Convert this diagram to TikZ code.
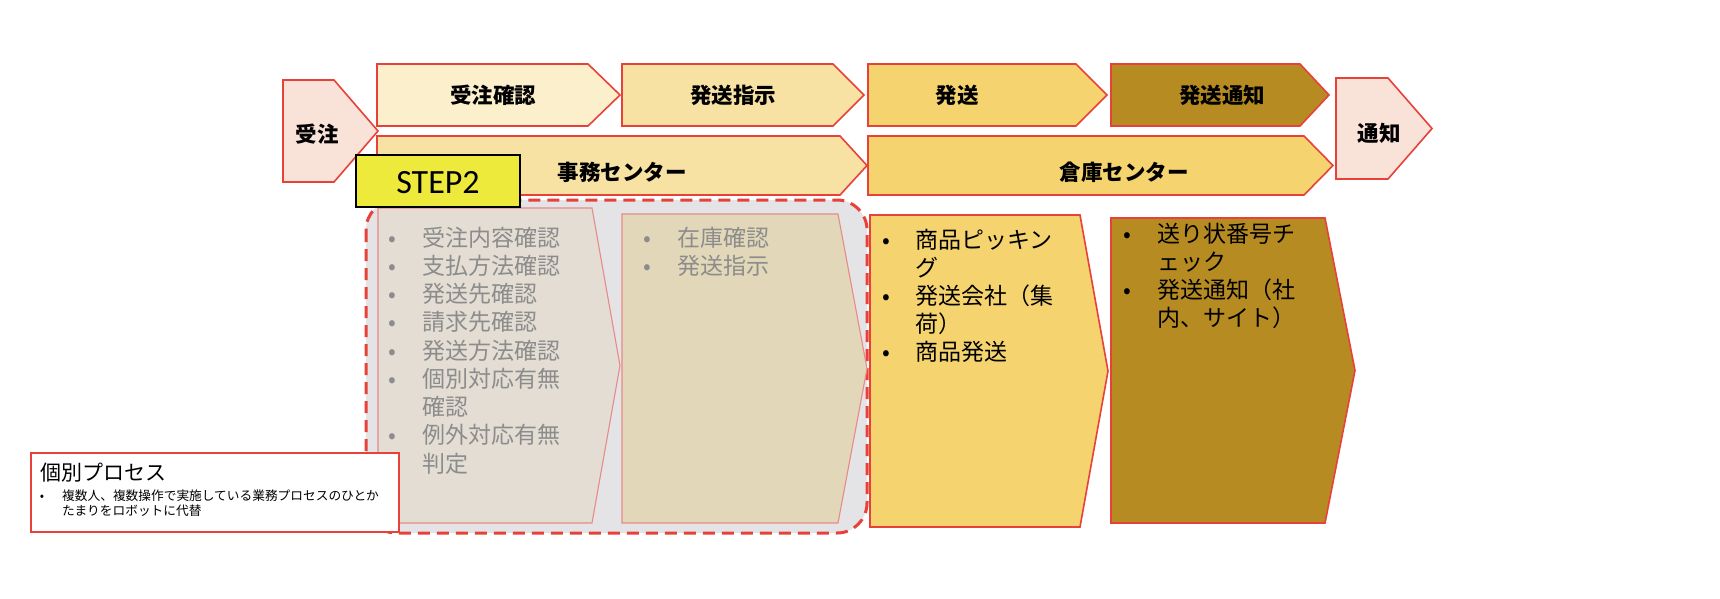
\documentclass[tikz,border=0pt]{standalone}
\usepackage{fontspec}
\newfontfamily\jp{Noto Sans CJK JP}
\newfontfamily\stepfont{Carlito}
\definecolor{redline}{HTML}{E8413A}
\definecolor{pinkfill}{HTML}{F9E2D8}
\definecolor{creamA}{HTML}{FCEFCB}
\definecolor{creamB}{HTML}{F8E2A3}
\definecolor{goldfill}{HTML}{F5D36F}
\definecolor{darkgold}{HTML}{B68B22}
\definecolor{greyzone}{HTML}{E4E4E6}
\definecolor{greyA}{HTML}{E3DDD3}
\definecolor{greyB}{HTML}{E2D7B8}
\definecolor{softred}{HTML}{E88A8A}
\definecolor{stepyellow}{HTML}{EEEA3C}
\definecolor{greytext}{HTML}{8C8C8C}
\newcommand\chevshape[6]{\draw[#6] (#1,#2) -- (#4,#2) -- (#5,{(#2+#3)/2}) -- (#4,#3) -- (#1,#3) -- cycle;}
\begin{document}
\begin{tikzpicture}[x=1pt,y=-1pt,
  shapeline/.style={draw=redline,line width=1.6pt,line join=miter},
  softshape/.style={draw=softred,line width=1.1pt},
  lab/.style={font=\jp\bfseries\fontsize{21.5}{24}\selectfont,inner sep=0pt,text=black},
  bodytxt/.style={font=\jp\fontsize{23}{28}\selectfont,inner sep=0pt,text=black},
  greytxt/.style={bodytxt,text=greytext},
]
\useasboundingbox (0,0) rectangle (1720,598);
\fill[white] (0,0) rectangle (1720,598);

% top row
\chevshape{283}{80}{182}{334}{378}{shapeline,fill=pinkfill}
\chevshape{377}{64}{126}{588}{620}{shapeline,fill=creamA}
\chevshape{622}{64}{126}{833}{864}{shapeline,fill=creamB}
\chevshape{868}{64}{126}{1076}{1107}{shapeline,fill=goldfill}
\chevshape{1111}{64}{126}{1300}{1329}{shapeline,fill=darkgold}
\chevshape{1336}{78}{179}{1388}{1432}{shapeline,fill=pinkfill}
% second row
\chevshape{377}{136}{195}{840}{867}{shapeline,fill=creamB}
\chevshape{868}{136}{195}{1304}{1333}{shapeline,fill=goldfill}

\node[lab] (juchu) at (317,134) {受注};
\node[lab] (juchukakunin) at (493,95) {受注確認};
\node[lab] (hassoshiji) at (733,95) {発送指示};
\node[lab] (hasso) at (957,95) {発送};
\node[lab] (hassotsuchi) at (1222,95) {発送通知};
\node[lab] (tsuchi) at (1379,133) {通知};
\node[lab] (jimu) at (622,172) {事務センター};
\node[lab] (soko) at (1124,172) {倉庫センター};

% STEP2 zone
\draw[draw=redline,fill=greyzone,line width=3pt,dash pattern=on 12pt off 7pt,rounded corners=30pt] (366,200) rectangle (867,533);
\chevshape{378}{208}{523}{592}{620}{softshape,fill=greyA}
\chevshape{622}{214}{523}{838}{867}{softshape,fill=greyB}
% lower right chevrons
\chevshape{870}{215}{527}{1080}{1108}{shapeline,fill=goldfill}
\chevshape{1111}{218}{523}{1325}{1355}{shapeline,fill=darkgold}

\draw[black,line width=2.2pt,fill=stepyellow] (356,155) rectangle (520,207);
\node[font=\stepfont\fontsize{34}{38}\selectfont,inner sep=0pt] (step) at (438,183) {STEP2};

% texts chevron 1
\foreach \b/\t [count=\i from 0] in {1/受注内容確認,1/支払方法確認,1/発送先確認,1/請求先確認,1/発送方法確認,1/個別対応有無,0/確認,1/例外対応有無,0/判定}{
  \pgfmathsetmacro\yy{246+28.25*\i}
  \node[greytxt,anchor=base west] (a\i) at (422,\yy) {\t};
  \ifnum\b=1 \node[greytxt,anchor=base] (ab\i) at (392,\yy) {•};\fi
}
% chevron 2
\foreach \t [count=\i from 0] in {在庫確認,発送指示}{
  \pgfmathsetmacro\yy{246+28.25*\i}
  \node[greytxt,anchor=base west] (b\i) at (677,\yy) {\t};
  \node[greytxt,anchor=base] (bb\i) at (647,\yy) {•};
}
% hasso chevron
\foreach \b/\t [count=\i from 0] in {1/商品ピッキン,0/グ,1/発送会社（集,0/荷）,1/商品発送}{
  \pgfmathsetmacro\yy{248+28.2*\i}
  \node[bodytxt,anchor=base west] (c\i) at (915,\yy) {\t};
  \ifnum\b=1 \node[bodytxt,anchor=base] (cb\i) at (886,\yy) {•};\fi
}
% hasso tsuchi chevron
\foreach \b/\t [count=\i from 0] in {1/送り状番号チ,0/ェック,1/発送通知（社,0/内、サイト）}{
  \pgfmathsetmacro\yy{242+28.3*\i}
  \node[bodytxt,anchor=base west] (d\i) at (1157,\yy) {\t};
  \ifnum\b=1 \node[bodytxt,anchor=base] (db\i) at (1127,\yy) {•};\fi
}

% legend
\draw[draw=redline,line width=1.8pt,fill=white] (31,453) rectangle (399,532);
\node[font=\jp\fontsize{21}{24}\selectfont,inner sep=0pt,anchor=base west] (legtitle) at (40,480) {個別プロセス};
\node[font=\jp\fontsize{12.7}{15}\selectfont,inner sep=0pt,anchor=base] (legb) at (42,500) {•};
\node[font=\jp\fontsize{12.7}{15}\selectfont,inner sep=0pt,anchor=base west] (leg1) at (62,500) {複数人、複数操作で実施している業務プロセスのひとか};
\node[font=\jp\fontsize{12.7}{15}\selectfont,inner sep=0pt,anchor=base west] (leg2) at (62,515) {たまりをロボットに代替};
\end{tikzpicture}
\end{document}
